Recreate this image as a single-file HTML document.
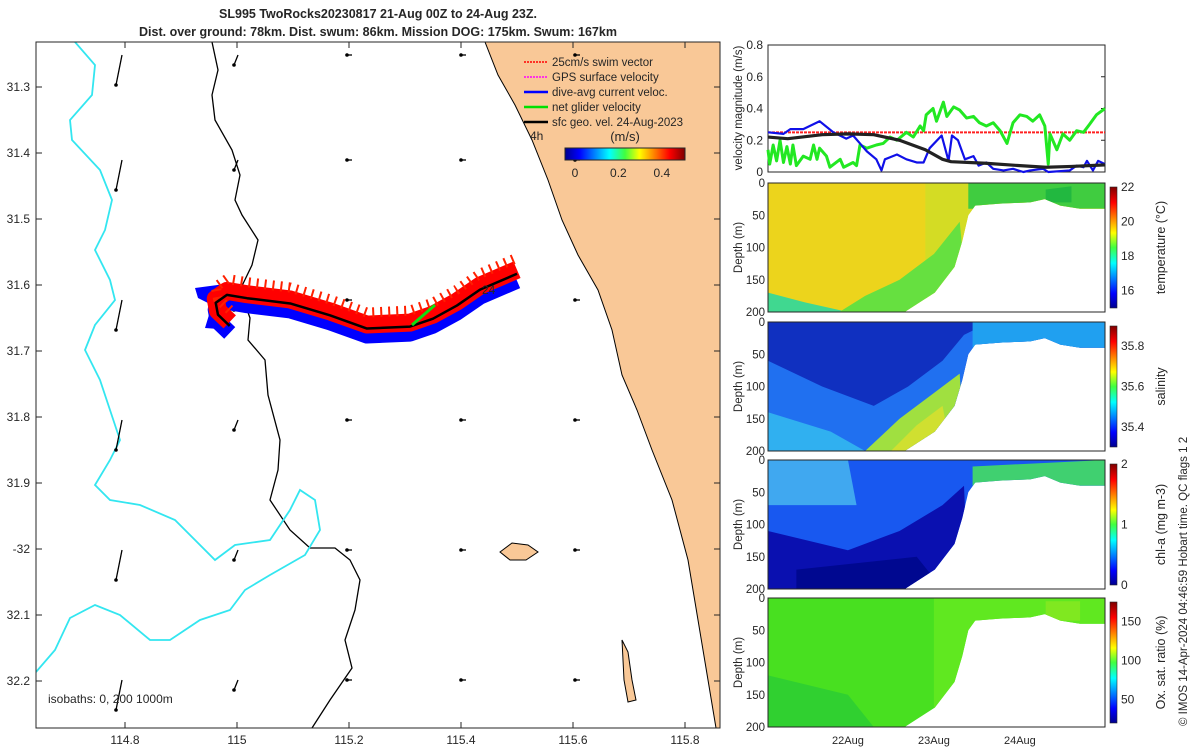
<!DOCTYPE html>
<html><head><meta charset="utf-8"><style>
body{margin:0;background:#fff;}
svg{display:block;font-family:"Liberation Sans",sans-serif;}
text{fill:#262626;}
</style></head><body>
<svg id="c" width="1200" height="750" viewBox="0 0 1200 750">
<defs>
<linearGradient id="jetV" x1="0" y1="1" x2="0" y2="0">
<stop offset="0" stop-color="#00008f"/><stop offset="0.12" stop-color="#0000ff"/><stop offset="0.37" stop-color="#00ffff"/><stop offset="0.5" stop-color="#40ff40"/><stop offset="0.62" stop-color="#ffff00"/><stop offset="0.87" stop-color="#ff0000"/><stop offset="1" stop-color="#800000"/>
</linearGradient>
<linearGradient id="jetH" x1="0" y1="0" x2="1" y2="0">
<stop offset="0" stop-color="#00008f"/><stop offset="0.12" stop-color="#0000ff"/><stop offset="0.37" stop-color="#00ffff"/><stop offset="0.5" stop-color="#40ff40"/><stop offset="0.62" stop-color="#ffff00"/><stop offset="0.87" stop-color="#ff0000"/><stop offset="1" stop-color="#800000"/>
</linearGradient>
<clipPath id="mapclip"><rect x="36" y="42" width="684" height="686"/></clipPath>
</defs>
<text x="378" y="18" text-anchor="middle" font-size="12.5" font-weight="bold">SL995 TwoRocks20230817 21-Aug 00Z to 24-Aug 23Z.</text>
<text x="378" y="36" text-anchor="middle" font-size="12.5" font-weight="bold">Dist. over ground: 78km. Dist. swum: 86km. Mission DOG: 175km. Swum: 167km</text>
<g id="map"></g>
<g id="vel"></g>
<g id="sections"></g>
<text transform="translate(1187,726) rotate(-90)" font-size="11.5">© IMOS 14-Apr-2024 04:46:59 Hobart time. QC flags 1  2</text>
</svg>
<script>
// ---------- data ----------
const lonTicks=[114.8,115,115.2,115.4,115.6,115.8];
const latTicks=[31.3,31.4,31.5,31.6,31.7,31.8,31.9,32,32.1,32.2];
const latTickLabels=["31.3","31.4","31.5","31.6","31.7","31.8","31.9","-32","32.1","32.2"];
const trackLon=[114.987,114.966,114.962,114.982,115.018,115.095,115.166,115.232,115.309,115.350,115.393,115.434,115.500];
const trackLat=[31.662,31.645,31.627,31.615,31.620,31.628,31.646,31.666,31.663,31.651,31.631,31.607,31.583];
const velTime=[0.07,0.25,0.33,0.48,0.67,0.83,0.98,1.06,1.14,1.22,1.33,1.39,1.43,1.57,1.68,1.80,1.88,1.95,2.09,2.17,2.21,2.28,2.36,2.46,2.52,2.61,2.69,2.81,2.92,3.04,3.12,3.27,3.33,3.58,3.66,3.74,3.78,3.85,3.91,3.99];
const diveAvg=[0.25,0.24,0.27,0.27,0.32,0.25,0.21,0.23,0.18,0.13,0.08,0.01,0.08,0.11,0.08,0.06,0.06,0.15,0.23,0.07,0.23,0.2,0.08,0.1,0.04,0.06,0.02,0.01,0.02,0,0.01,0.02,0,0.01,0.04,0.03,0.07,0.01,0.07,0.05];
const netTime=[0.07,0.09,0.13,0.17,0.21,0.25,0.29,0.33,0.36,0.40,0.48,0.56,0.60,0.64,0.67,0.75,0.79,0.91,0.95,1.06,1.10,1.14,1.22,1.33,1.41,1.49,1.57,1.68,1.76,1.84,1.88,1.91,1.99,2.03,2.11,2.15,2.23,2.30,2.38,2.46,2.53,2.61,2.69,2.77,2.85,2.92,3.00,3.08,3.15,3.23,3.29,3.33,3.35,3.43,3.50,3.58,3.66,3.74,3.81,3.89,3.99];
const netVel=[0.14,0.05,0.17,0.07,0.2,0.06,0.16,0.05,0.17,0.04,0.1,0.08,0.17,0.08,0.15,0.1,0.03,0.08,0.03,0.06,0.04,0.17,0.15,0.17,0.18,0.22,0.2,0.25,0.22,0.29,0.26,0.36,0.4,0.32,0.44,0.35,0.41,0.39,0.34,0.35,0.31,0.29,0.31,0.26,0.18,0.31,0.36,0.35,0.32,0.36,0.29,0.05,0.24,0.14,0.24,0.2,0.26,0.25,0.3,0.36,0.4];
const geoTime=[0.07,0.3,0.7,1.0,1.3,1.6,1.9,2.1,2.2,2.6,3.0,3.3,3.6,3.99];
const geoVel=[0.22,0.21,0.235,0.24,0.235,0.2,0.14,0.08,0.065,0.055,0.04,0.03,0.035,0.045];
const swimVel=0.25;
const velTicks=[0,0.2,0.4,0.6,0.8];
const dayTicks=[1,2,3];
const dayLabels=["22Aug","23Aug","24Aug"];
const depthTicks=[0,50,100,150,200];
const extentTime=[0.07,1.66,2.01,2.24,2.33,2.40,2.48,2.77,3.12,3.29,3.47,3.70,3.99];
const extentDepth=[200,200,170,130,90,50,35,32,30,25,35,40,40];
const panelNames=["temperature","salinity","chl-a","oxygen"];
const cbarLabels=["temperature (°C)","salinity","chl-a (mg m-3)","Ox. sat. ratio (%)"];
const cbarTicks=[[16,18,20,22],[35.4,35.6,35.8],[0,1,2],[50,100,150]];
const cbarRange=[[15,22],[35.3,35.9],[0,2],[20,175]];

// ---------- helpers ----------
const NS="http://www.w3.org/2000/svg";
function mk(tag,attrs,parent){const e=document.createElementNS(NS,tag);for(const k in attrs)e.setAttribute(k,attrs[k]);parent.appendChild(e);return e;}
const lonX=v=>125+(v-114.8)*560;
const latY=v=>87+(v-31.3)*660;

// ---------- map ----------
const map=document.getElementById('map');
const mg=mk('g',{'clip-path':'url(#mapclip)'},map);
let land=mk('path',{d:'M485,42 L498,75 L515,105 L532,140 L548,180 L562,220 L578,255 L598,290 L612,330 L622,375 L637,410 L652,450 L672,500 L688,560 L698,620 L708,680 L716,728 L720,728 L720,42 Z',fill:'#f9c897',stroke:'#000','stroke-width':1},mg);


let isl=mk('path',{d:'M500,552 L512,543 L528,545 L538,552 L526,560 L510,560 Z',fill:'#f9c897',stroke:'#000'},mg);


let isl2=mk('path',{d:'M622,640 L628,652 L632,680 L636,700 L628,702 L624,680 Z',fill:'#f9c897',stroke:'#000'},mg);


let iso200=mk('path',{d:'M212,42 L218,70 L212,95 L215,120 L232,150 L240,175 L235,200 L242,215 L258,240 L252,265 L240,290 L250,318 L248,340 L265,360 L268,395 L280,440 L278,470 L270,500 L290,530 L310,548 L335,548 L350,560 L360,580 L355,610 L345,640 L352,668 L330,700 L312,728',fill:'none',stroke:'#000','stroke-width':1.3},mg);


let iso1000=mk('path',{d:'M75,42 L95,65 L92,95 L70,120 L72,140 L100,170 L112,200 L105,230 L95,250 L110,280 L115,300 L95,325 L85,350 L100,380 L110,410 L120,440 L110,460 L95,485 L110,500 L140,505 L175,520 L200,545 L215,560 L235,545 L270,540 L290,510 L300,490 L315,500 L320,530 L305,555 L270,575 L245,590 L230,610 L200,620 L170,640 L150,640 L120,615 L95,605 L70,618 L55,650 L36,672',fill:'none',stroke:'#33e6f0','stroke-width':1.8},mg);


// geo velocity arrows
const arrowCols=[122,238,352,466,580];
const arrowRows=[55,160,300,420,550,680];
arrowRows.forEach((ry,ri)=>arrowCols.forEach((cx,ci)=>{
  let big=ci===0, L=big?30:(ci===1?14:5);
  let dx=big?-6:-4, dy=big?L:(ci===1?10:0);
  if(ci>1){dx=-5;dy=0;}
  let a=mk('g',{},mg);
  
  
  mk('line',{x1:cx,y1:ry,x2:cx+dx,y2:ry+dy,stroke:'#000','stroke-width':1.3},a);
  mk('circle',{cx:cx+dx,cy:ry+dy,r:1.8,fill:'#000'},a);
}));
// track
const pts=trackLon.map((v,i)=>lonX(v)+','+latY(trackLat[i])).join(' ');
const ptsB=trackLon.map((v,i)=>lonX(v)+','+(latY(trackLat[i])+7)).join(' ');
let blob=mk('polygon',{points:'195,288 225,284 232,300 215,318 232,330 205,328 212,305 198,298',fill:'#0000ff'},mg);


let blue=mk('polyline',{points:ptsB,fill:'none',stroke:'#0000ff','stroke-width':16,'stroke-linejoin':'round'},mg);


let red=mk('polyline',{points:trackLon.map((v,i)=>lonX(v)+','+(latY(trackLat[i])-4)).join(' '),fill:'none',stroke:'#ff0000','stroke-width':18,'stroke-linejoin':'round'},mg);


let red2=mk('polyline',{points:trackLon.map((v,i)=>lonX(v)+','+(latY(trackLat[i])-16)).join(' '),fill:'none',stroke:'#ff2000','stroke-width':10,'stroke-dasharray':'2 6'},mg);


let trk=mk('polyline',{points:pts,fill:'none',stroke:'#000','stroke-width':2.5,'stroke-linejoin':'round'},mg);


let gA=mk('line',{x1:435,y1:305,x2:412,y2:325,stroke:'#10e010','stroke-width':3},mg);


let t24=mk('text',{x:482,y:294,'font-size':12},mg);t24.textContent='24';


// map frame & ticks
let mf=mk('rect',{x:36,y:42,width:684,height:686,fill:'none',stroke:'#262626','stroke-width':1},map);


lonTicks.forEach(v=>{let t=mk('text',{x:lonX(v),y:744,'text-anchor':'middle','font-size':12},map);t.textContent=v;


mk('line',{x1:lonX(v),y1:728,x2:lonX(v),y2:722,stroke:'#262626'},map);mk('line',{x1:lonX(v),y1:42,x2:lonX(v),y2:48,stroke:'#262626'},map);});
latTicks.forEach((v,i)=>{let t=mk('text',{x:30,y:latY(v)+4,'text-anchor':'end','font-size':12},map);t.textContent=latTickLabels[i];


mk('line',{x1:36,y1:latY(v),x2:42,y2:latY(v),stroke:'#262626'},map);mk('line',{x1:714,y1:latY(v),x2:720,y2:latY(v),stroke:'#262626'},map);});
let iso=mk('text',{x:48,y:703,'font-size':12},map);iso.textContent='isobaths: 0, 200  1000m';


// legend
const legItems=[["25cm/s swim vector","#ff0000"],["GPS surface velocity","#ff00ff"],["dive-avg current veloc.","#0000ff"],["net glider velocity","#00e000"],["sfc geo. vel. 24-Aug-2023","#000"]];
legItems.forEach((it,i)=>{let y=66+i*15;let g=mk('g',{},map);


mk('line',{x1:524,y1:y-4,x2:548,y2:y-4,stroke:it[1],'stroke-width':i>1?2.5:1.5,'stroke-dasharray':i<2?'2 1':'none'},g);
let t=mk('text',{x:552,y:y,'font-size':11.5},g);t.textContent=it[0];});
let l4h=mk('text',{x:530,y:140,'font-size':12},map);l4h.textContent='4h';


let lu=mk('text',{x:625,y:141,'text-anchor':'middle','font-size':13},map);lu.textContent='(m/s)';


let mcb=mk('rect',{x:565,y:148,width:120,height:12,fill:'url(#jetH)',stroke:'#262626'},map);


[0,0.2,0.4].forEach(v=>{let t=mk('text',{x:575+v*217,y:177,'text-anchor':'middle','font-size':12},map);t.textContent=v;

});

// ---------- velocity panel ----------
const vel=document.getElementById('vel');
const VX0=768,VX1=1105,T0=0.07,T1=3.99;
const tX=t=>VX0+(t-T0)/(T1-T0)*(VX1-VX0);
const vY=v=>172-v/0.8*127;
let vf=mk('rect',{x:VX0,y:45,width:VX1-VX0,height:127,fill:'#fff',stroke:'#262626'},vel);


velTicks.forEach(v=>{let t=mk('text',{x:VX0-5,y:vY(v)+4,'text-anchor':'end','font-size':12},vel);t.textContent=v;


mk('line',{x1:VX1-4,y1:vY(v),x2:VX1,y2:vY(v),stroke:'#262626'},vel);});
let vl=mk('text',{transform:'translate(742,108) rotate(-90)','text-anchor':'middle','font-size':11.5},vel);vl.textContent='velocity magnitude (m/s)';


let sw=mk('line',{x1:VX0,y1:vY(swimVel),x2:VX1,y2:vY(swimVel),stroke:'#ff2020','stroke-width':2,'stroke-dasharray':'3 1'},vel);


const line=(ts,vs,col,w,dash)=>mk('polyline',{points:ts.map((t,i)=>tX(t)+','+vY(vs[i])).join(' '),fill:'none',stroke:col,'stroke-width':w,'stroke-dasharray':dash||'none','stroke-linejoin':'round'},vel);
let gl=line(netTime,netVel,'#22e822',3);


let bl=line(velTime,diveAvg,'#1010e8',2.2);


let kl=line(geoTime,geoVel,'#222',3.2);



// ---------- section panels ----------
const sec=document.getElementById('sections');
const panelTop=[183,322,460,598],PH=129;
const fills=[
 [["#ecd41c",[0.07,0],[3.99,0],[3.99,200],[0.07,200]],["#d4dc24",[1.9,0],[3.99,0],[3.99,200],[1.9,200]],["#40d890",[0.07,170],[0.5,185],[1.0,200],[0.07,200]],["#66e040",[0.9,200],[1.2,175],[1.6,150],[2.0,110],[2.3,60],[2.4,200]],["#40cc40",[2.4,0],[3.99,0],[3.99,40],[2.4,40]],["#22b840",[3.3,10],[3.6,5],[3.6,30],[3.3,30]]],
 [["#1030c0",[0.07,0],[3.99,0],[3.99,200],[0.07,200]],["#2070f0",[0.07,60],[0.7,100],[1.3,130],[1.7,100],[2.1,60],[2.35,20],[2.5,10],[3.99,10],[3.99,200],[0.07,200]],["#30b0f0",[0.07,140],[0.8,170],[1.2,200],[0.07,200]],["#a0e040",[1.2,200],[1.6,150],[2.0,110],[2.3,80],[2.35,200]],["#d0e030",[1.5,200],[1.8,160],[2.1,130],[2.2,200]],["#20a0f0",[2.45,0],[3.99,0],[3.99,40],[2.45,40]]],
 [["#1858f0",[0.07,0],[3.99,0],[3.99,200],[0.07,200]],["#40a8f0",[0.07,0],[1.0,0],[1.1,70],[0.07,70]],["#0a10b0",[0.07,110],[1.0,140],[1.6,110],[2.1,70],[2.35,40],[2.4,200],[0.07,200]],["#000890",[0.4,170],[1.8,150],[2.1,200],[0.4,200]],["#40d070",[2.45,10],[3.99,0],[3.99,40],[2.45,40]]],
 [["#48e020",[0.07,0],[3.99,0],[3.99,200],[0.07,200]],["#60e820",[2.0,0],[3.99,0],[3.99,200],[2.0,200]],["#30d030",[0.07,120],[1.0,150],[1.3,200],[0.07,200]],["#80e820",[3.3,5],[3.7,5],[3.7,35],[3.3,35]]]
];
panelTop.forEach((top,pi)=>{
  const dY=d=>top+d/200*PH;
  const g=mk('g',{},sec);
  
  
  const cid='clip'+pi;
  const cp=mk('clipPath',{id:cid},g);
  mk('polygon',{points:'768,'+top+' '+extentTime.map((t,i)=>tX(t)+','+dY(extentDepth[i])).join(' ')+' 1105,'+top},cp);
  const inner=mk('g',{'clip-path':'url(#'+cid+')'},g);
  fills[pi].forEach(f=>{mk('polygon',{points:f.slice(1).map(p=>tX(p[0])+','+dY(p[1])).join(' '),fill:f[0]},inner);});
  mk('rect',{x:VX0,y:top,width:VX1-VX0,height:PH,fill:'none',stroke:'#262626'},g);
  depthTicks.forEach(d=>{let t=mk('text',{x:VX0-3,y:dY(d)+4,'text-anchor':'end','font-size':11.5},g);t.textContent=d;
  
  });
  let yl=mk('text',{transform:'translate(742,'+(top+PH/2)+') rotate(-90)','text-anchor':'middle','font-size':11.5},g);yl.textContent='Depth (m)';
  
  
  let cb=mk('rect',{x:1110,y:top+4,width:7,height:PH-8,fill:'url(#jetV)',stroke:'#262626','stroke-width':0.6},g);
  
  
  const r=cbarRange[pi];
  cbarTicks[pi].forEach(v=>{const y=top+PH-4-(v-r[0])/(r[1]-r[0])*(PH-8);
    let t=mk('text',{x:1121,y:y+4,'font-size':12},g);t.textContent=v;
    
    });
  let cl=mk('text',{transform:'translate(1165,'+(top+PH/2)+') rotate(-90)','text-anchor':'middle','font-size':12.5},g);cl.textContent=cbarLabels[pi];
  
  
});
dayTicks.forEach((d,i)=>{let t=mk('text',{x:tX(d),y:744,'text-anchor':'middle','font-size':11},sec);t.textContent=dayLabels[i];

});
</script>
</body></html>
